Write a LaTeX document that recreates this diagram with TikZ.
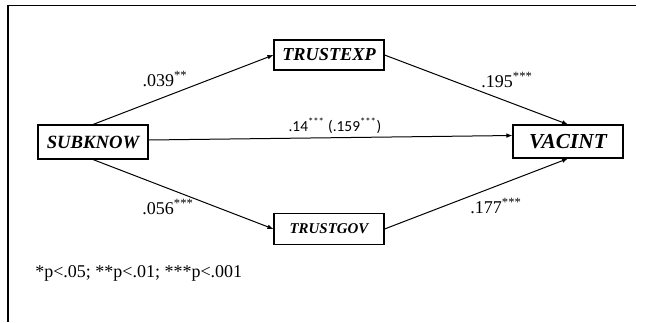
\documentclass[tikz,border=0pt]{standalone}
\usepackage{fontspec}
\setmainfont{Liberation Serif}
\newfontfamily\carlito{Carlito}
\usetikzlibrary{arrows.meta}
\begin{document}
\begin{tikzpicture}[x=0.75pt,y=-0.75pt,
  box/.style={draw, line width=0.8pt, inner sep=0pt, minimum width=82.5pt},
  conn/.style={line width=0.75pt, -{Latex[length=4.5pt,width=3.5pt]}},
  lbl/.style={font=\fontsize{13.5}{15}\selectfont, inner sep=0pt}]
\useasboundingbox (0,0) rectangle (645,322);
\draw[line width=1.2pt] (8,322) -- (8,5.5) -- (636,5.5);
\node[box, minimum height=25.5pt, font=\fontsize{14}{16}\selectfont\bfseries\itshape] (sub) at (93,142) {SUBKNOW};
\node[box, minimum height=24.75pt, font=\fontsize{16}{18}\selectfont\bfseries\itshape] (vac) at (568,141.5) {VACINT};
\node[box, minimum height=22.5pt, font=\fontsize{13.7}{16}\selectfont\bfseries\itshape] (exp) at (329,55) {TRUSTEXP};
\node[box, minimum height=23pt, font=\fontsize{11.2}{13}\selectfont\bfseries\itshape] (gov) at (329,229) {TRUSTGOV};
\draw[conn] (sub.north) -- (exp.west);
\draw[conn] (sub.south) -- (gov.west);
\draw[conn] (exp.east) -- (vac.north);
\draw[conn] (gov.east) -- (vac.south);
\draw[conn] ([yshift=1.5pt]sub.east) -- ([yshift=4.5pt]vac.west);
\node[lbl] (l1) at (165,79) {.039\textsuperscript{**}};
\node[lbl] (l2) at (507,80) {.195\textsuperscript{***}};
\node[lbl] (l3) at (168,207) {.056\textsuperscript{***}};
\node[lbl] (l4) at (496,206) {.177\textsuperscript{***}};
\node[inner sep=0pt, font=\carlito\fontsize{11.5}{13}\selectfont] (l5) at (335,126) {.14\textsuperscript{***} (.159\textsuperscript{***})};
\node[lbl, anchor=west] (fn) at (35,273) {*p<.05; **p<.01; ***p<.001};
\end{tikzpicture}
\end{document}
